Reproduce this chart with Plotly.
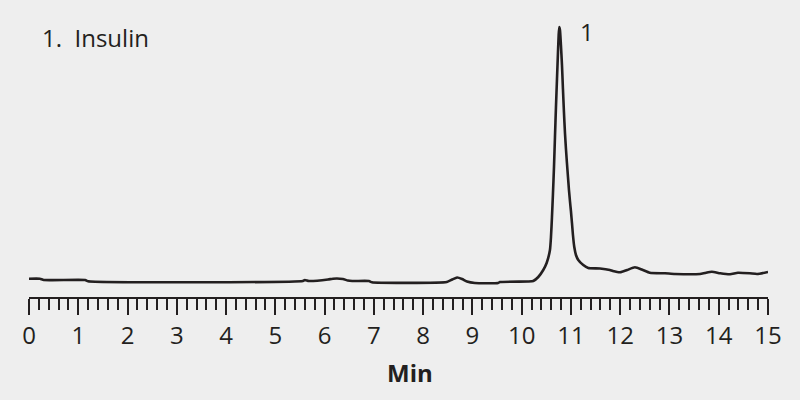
import plotly.graph_objects as go

# Retention time (min) and detector signal (arbitrary units)
time_min = [0.00, 0.22, 0.30, 1.14, 1.20, 5.56, 5.60, 5.68, 6.07, 6.17, 6.37, 6.47,
            6.56, 6.90, 6.96, 8.48, 8.59, 8.69, 8.79, 8.89, 9.05, 9.52, 9.56, 10.13,
            10.235, 10.337, 10.438, 10.507, 10.574, 10.595, 10.615, 10.635, 10.656,
            10.676, 10.696, 10.717, 10.737, 10.751, 10.763, 10.777, 10.797, 10.818,
            10.838, 10.858, 10.879, 10.899, 10.919, 10.940, 10.960, 10.980, 11.000,
            11.021, 11.041, 11.068, 11.102, 11.149, 11.250, 11.352,
            11.59, 11.79, 11.85, 12.00, 12.14, 12.30, 12.46, 12.60, 12.91,
            13.11, 13.62, 13.72, 13.86, 14.03, 14.23, 14.39, 14.63, 14.78, 15.00]
signal = [18.3, 18.3, 17.0, 17.0, 15.7, 16.0, 17.0, 16.0, 17.5, 18.3, 18.0, 16.5,
          16.0, 16.0, 14.7, 15.0, 17.5, 19.5, 18.0, 15.5, 14.0, 14.0, 15.0, 15.5,
          16.0, 20.0, 27.0, 34.0, 47.0, 60.0, 80.0, 103.0, 130.0,
          160.0, 190.0, 218.0, 245.0, 262.0, 270.0, 267.0, 252.0, 232.0,
          208.0, 185.0, 164.0, 148.0, 134.0, 120.0, 107.0, 96.0, 86.0,
          74.0, 62.0, 50.0, 42.0, 37.0, 32.0, 29.0,
          28.5, 27.0, 26.0, 24.7, 27.0, 29.7, 27.0, 24.3, 23.7,
          23.0, 23.0, 24.0, 25.3, 23.7, 22.7, 24.3, 23.7, 23.0, 25.0]

peak_labels = ["1"]
peak_times = [11.33]
legend_text = "1.  Insulin"
x_title = "Min"
tick_vals = list(range(0, 16))

INK = "#231f20"
BG = "#eeeeee"
FONT = "Open Sans"

fig = go.Figure()
fig.add_trace(go.Scatter(
    x=time_min, y=signal, mode="lines",
    line=dict(color=INK, width=2.6, shape="spline", smoothing=0.5),
    hoverinfo="skip", showlegend=False,
))

fig.update_layout(
    width=800, height=400,
    margin=dict(l=29, r=32, t=20, b=103),
    paper_bgcolor=BG, plot_bgcolor=BG,
    font=dict(family=FONT, color=INK, size=24),
    xaxis=dict(
        range=[0, 15], showgrid=False, zeroline=False,
        showline=True, linecolor=INK, linewidth=2,
        tickmode="array", tickvals=tick_vals,
        ticks="outside", ticklen=16, tickwidth=2, tickcolor=INK,
        tickfont=dict(family=FONT, size=24, color=INK),
        minor=dict(dtick=0.2, ticks="outside", ticklen=11, tickwidth=1.6,
                   tickcolor=INK, showgrid=False),
        fixedrange=True,
    ),
    yaxis=dict(range=[0, 277], visible=False, fixedrange=True),
    annotations=[
        dict(text=legend_text, x=0.0145, y=0.9386, xref="paper", yref="paper",
             xanchor="left", yanchor="middle", showarrow=False,
             font=dict(family=FONT, size=24, color=INK)),
        dict(text=peak_labels[0], x=peak_times[0], y=0.960, xref="x", yref="paper",
             xanchor="center", yanchor="middle", showarrow=False,
             font=dict(family=FONT, size=24, color=INK)),
        dict(text="<b>" + x_title + "</b>", x=7.73, y=-0.272, xref="x", yref="paper",
             xanchor="center", yanchor="middle", showarrow=False,
             font=dict(family=FONT, size=24, color=INK)),
    ],
)

fig.write_html(
    "out.html",
    config={"displayModeBar": False},
    post_script="document.body.style.margin='0';document.body.style.background='#eeeeee';",
)
